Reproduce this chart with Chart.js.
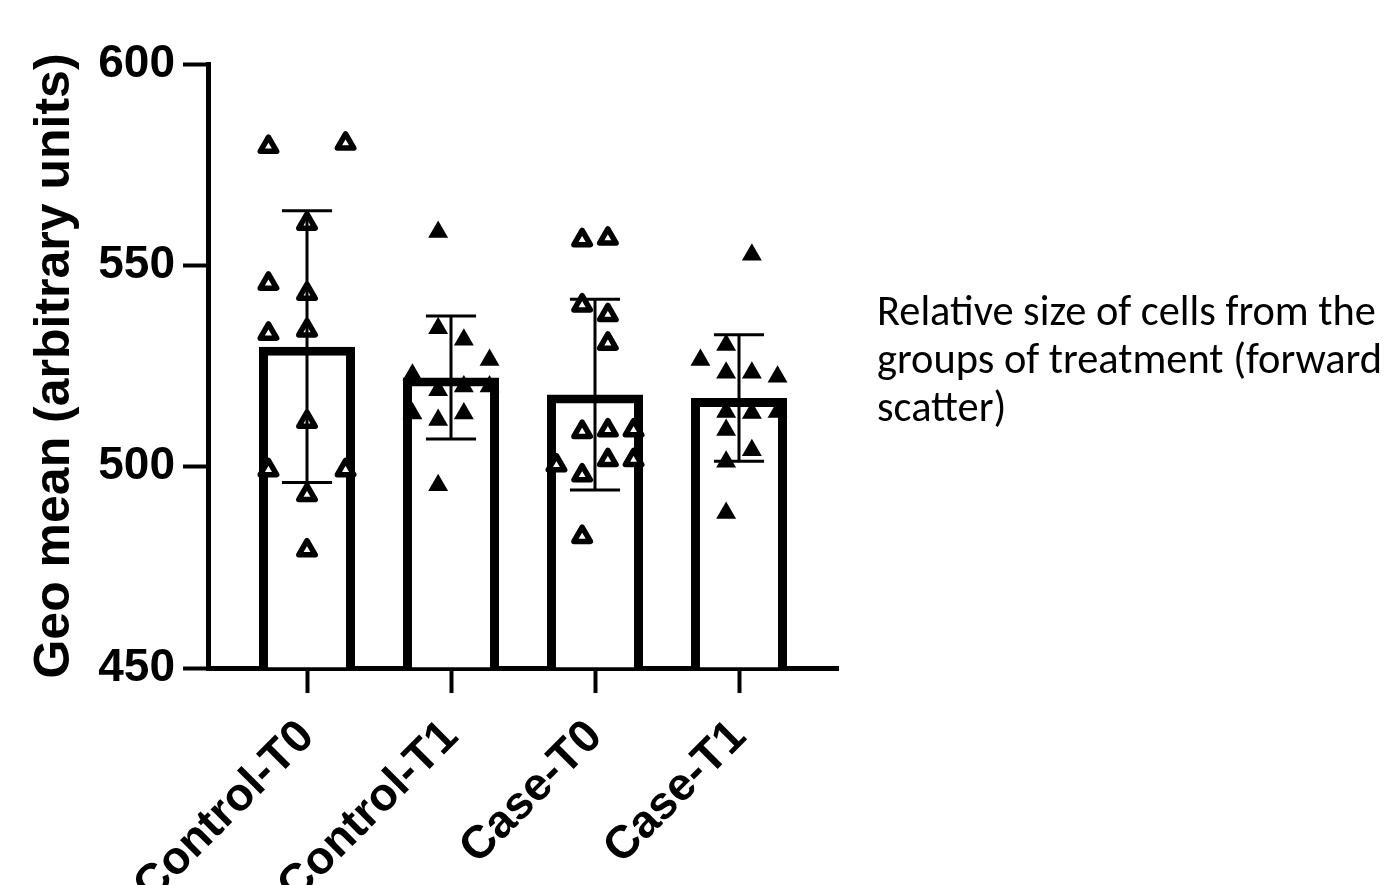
<!DOCTYPE html>
<html>
<head>
<meta charset="utf-8">
<script src="https://cdn.jsdelivr.net/npm/chart.js@4.4.1/dist/chart.umd.min.js"></script>
<style>
html, body { margin:0; padding:0; width:1386px; height:885px; overflow:hidden; background:#fff; }
#wrap { position:absolute; left:0; top:0; width:1386px; height:885px; }
#note { position:absolute; left:877px; top:289px; font-family: Calibri, Carlito, Lato, "Open Sans", sans-serif;
        font-size:30px; line-height:48px; white-space:nowrap; color:#000; }
</style>
</head>
<body>
<div id="wrap"><canvas id="c" width="1386" height="885"></canvas></div>
<div id="note"><span id="l1">Relative size of cells from the</span><br><span>groups of treatment (forward</span><br><span>scatter)</span></div>
<script>
// ---------- data ----------
const categories = ['Control-T0', 'Control-T1', 'Case-T0', 'Case-T1'];

const controlT0 = [579.5, 580.3, 560.4, 545.5, 543.0, 533.1, 533.9, 511.2, 499.2, 499.2, 493.0, 479.3];
const controlT1 = [558.3, 534.4, 531.5, 526.5, 522.8, 519.0, 519.9, 519.9, 513.2, 511.6, 513.2, 495.4];
const caseT0    = [556.3, 556.7, 540.1, 537.7, 530.6, 508.7, 509.1, 509.1, 500.4, 501.7, 501.7, 497.9, 482.6];
const caseT1    = [552.6, 530.2, 526.5, 523.3, 523.3, 522.3, 513.6, 513.3, 513.6, 509.1, 504.1, 501.2, 488.5];

// scatter column (jitter slot) of each point, in slot units
const controlT0Slot = [-1.5, 1.5, 0, -1.5, 0, -1.5, 0, 0, -1.5, 1.5, 0, 0];
const controlT1Slot = [-0.5, -0.5, 0.5, 1.5, -1.5, -0.5, 0.5, 1.5, -1.5, -0.5, 0.5, -0.5];
const caseT0Slot    = [-0.5, 0.5, -0.5, 0.5, 0.5, -0.5, 0.5, 1.5, -1.5, 0.5, 1.5, -0.5, -0.5];
const caseT1Slot    = [0.5, -0.5, -1.5, -0.5, 0.5, 1.5, -0.5, 0.5, 1.5, -0.5, 0.5, -0.5, -0.5];

const yTicks = [450, 500, 550, 600];
const yTitle = 'Geo mean (arbitrary units)';

// ---------- derived ----------
const groups = [
  { values: controlT0, slots: controlT0Slot, filled: false },
  { values: controlT1, slots: controlT1Slot, filled: true },
  { values: caseT0,    slots: caseT0Slot,    filled: false },
  { values: caseT1,    slots: caseT1Slot,    filled: true }
];
const mean = a => a.reduce((s, v) => s + v, 0) / a.length;
const sd = a => { const m = mean(a); return Math.sqrt(a.reduce((s, v) => s + (v - m) * (v - m), 0) / (a.length - 1)); };

const SLOT = 0.1785;     // jitter slot width in category units
const CAP = 0.174;       // half width of error bar caps, category units
const XPAD = 0.1875;     // extra axis length on each side, category units

const yMin = yTicks[0], yMax = yTicks[yTicks.length - 1];
const fontFam = '"Liberation Sans", Arial, Helvetica, sans-serif';

const datasets = [{
  type: 'bar',
  data: groups.map((g, i) => ({ x: i, y: mean(g.values) })),
  base: yMin,
  backgroundColor: '#ffffff',
  borderColor: '#000000',
  borderWidth: 9,
  borderSkipped: 'start',
  barPercentage: 0.667,
  categoryPercentage: 1,
  order: 2
}];
groups.forEach((g, i) => {
  datasets.push({
    type: 'scatter',
    data: g.values.map((v, k) => ({ x: i + g.slots[k] * SLOT, y: v })),
    pointStyle: 'triangle',
    pointRadius: g.filled ? 11.5 : 9.5,
    pointHoverRadius: g.filled ? 11.5 : 9.5,
    pointBackgroundColor: g.filled ? '#000000' : '#ffffff',
    pointBorderColor: '#000000',
    pointBorderWidth: g.filled ? 0 : 5.5,
    order: 1
  });
});

const roundJoin = {
  id: 'roundJoin',
  beforeDatasetsDraw(chart) { chart.ctx.lineJoin = 'round'; }
};

const errorBars = {
  id: 'errorBars',
  afterDatasetsDraw(chart) {
    const { ctx } = chart;
    const xs = chart.scales.x, ys = chart.scales.y;
    ctx.save();
    ctx.strokeStyle = '#000';
    ctx.lineWidth = 3;
    ctx.lineCap = 'butt';
    groups.forEach((g, i) => {
      const m = mean(g.values), s = sd(g.values);
      const px = xs.getPixelForValue(i);
      const half = xs.getPixelForValue(i + CAP) - px;
      const top = ys.getPixelForValue(m + s);
      const bot = ys.getPixelForValue(m - s);
      ctx.beginPath();
      ctx.moveTo(px, top); ctx.lineTo(px, bot);
      ctx.moveTo(px - half, top); ctx.lineTo(px + half, top);
      ctx.moveTo(px - half, bot); ctx.lineTo(px + half, bot);
      ctx.stroke();
    });
    ctx.restore();
  }
};

Chart.defaults.color = '#000';

new Chart(document.getElementById('c'), {
  type: 'bar',
  data: { datasets },
  plugins: [roundJoin, errorBars],
  options: {
    responsive: false,
    animation: false,
    events: [],
    layout: { padding: { left: 0, top: 64, right: 548, bottom: 0 } },
    plugins: { legend: { display: false }, tooltip: { enabled: false } },
    scales: {
      x: {
        type: 'linear',
        offset: false,
        min: -0.5 - XPAD,
        max: categories.length - 0.5 + XPAD,
        z: 1,
        afterBuildTicks: s => { s.ticks = categories.map((c, i) => ({ value: i })); },
        afterFit: s => { s.height = 885 - 668; },
        ticks: {
          callback: v => categories[v],
          autoSkip: false,
          minRotation: 45,
          maxRotation: 45,
          padding: 17,
          color: '#000',
          font: { family: fontFam, size: 46, weight: 'bold' }
        },
        grid: { display: true, offset: false, drawOnChartArea: false, drawTicks: true, tickLength: 25, tickWidth: 4, tickColor: '#000' },
        border: { display: true, color: '#000', width: 5 }
      },
      y: {
        type: 'linear',
        min: yMin,
        max: yMax,
        z: 1,
        afterBuildTicks: s => { s.ticks = yTicks.map(v => ({ value: v })); },
        afterFit: s => { s.width = 208; },
        ticks: {
          padding: 8,
          color: '#000',
          font: { family: fontFam, size: 46, weight: 'bold' }
        },
        grid: { display: true, drawOnChartArea: false, drawTicks: true, tickLength: 25, tickWidth: 4, tickColor: '#000' },
        border: { display: true, color: '#000', width: 5 },
        title: {
          display: true,
          text: yTitle,
          color: '#000',
          font: { family: fontFam, size: 50, weight: 'bold' },
          padding: { top: 25, bottom: 0 }
        }
      }
    }
  }
});

// fit annotation text to reference width and baseline
(function () {
  const note = document.getElementById('note');
  const l1 = document.getElementById('l1');
  let fs = 30;
  note.style.fontSize = fs + 'px';
  const w = l1.getBoundingClientRect().width;
  fs = fs * 499 / w;
  note.style.fontSize = fs.toFixed(2) + 'px';
  const probe = document.createElement('span');
  probe.style.cssText = 'display:inline-block;width:0;height:0;vertical-align:baseline;';
  l1.appendChild(probe);
  const base = probe.getBoundingClientRect().top - note.getBoundingClientRect().top;
  note.style.top = (325 - base).toFixed(1) + 'px';
})();
</script>
</body>
</html>
